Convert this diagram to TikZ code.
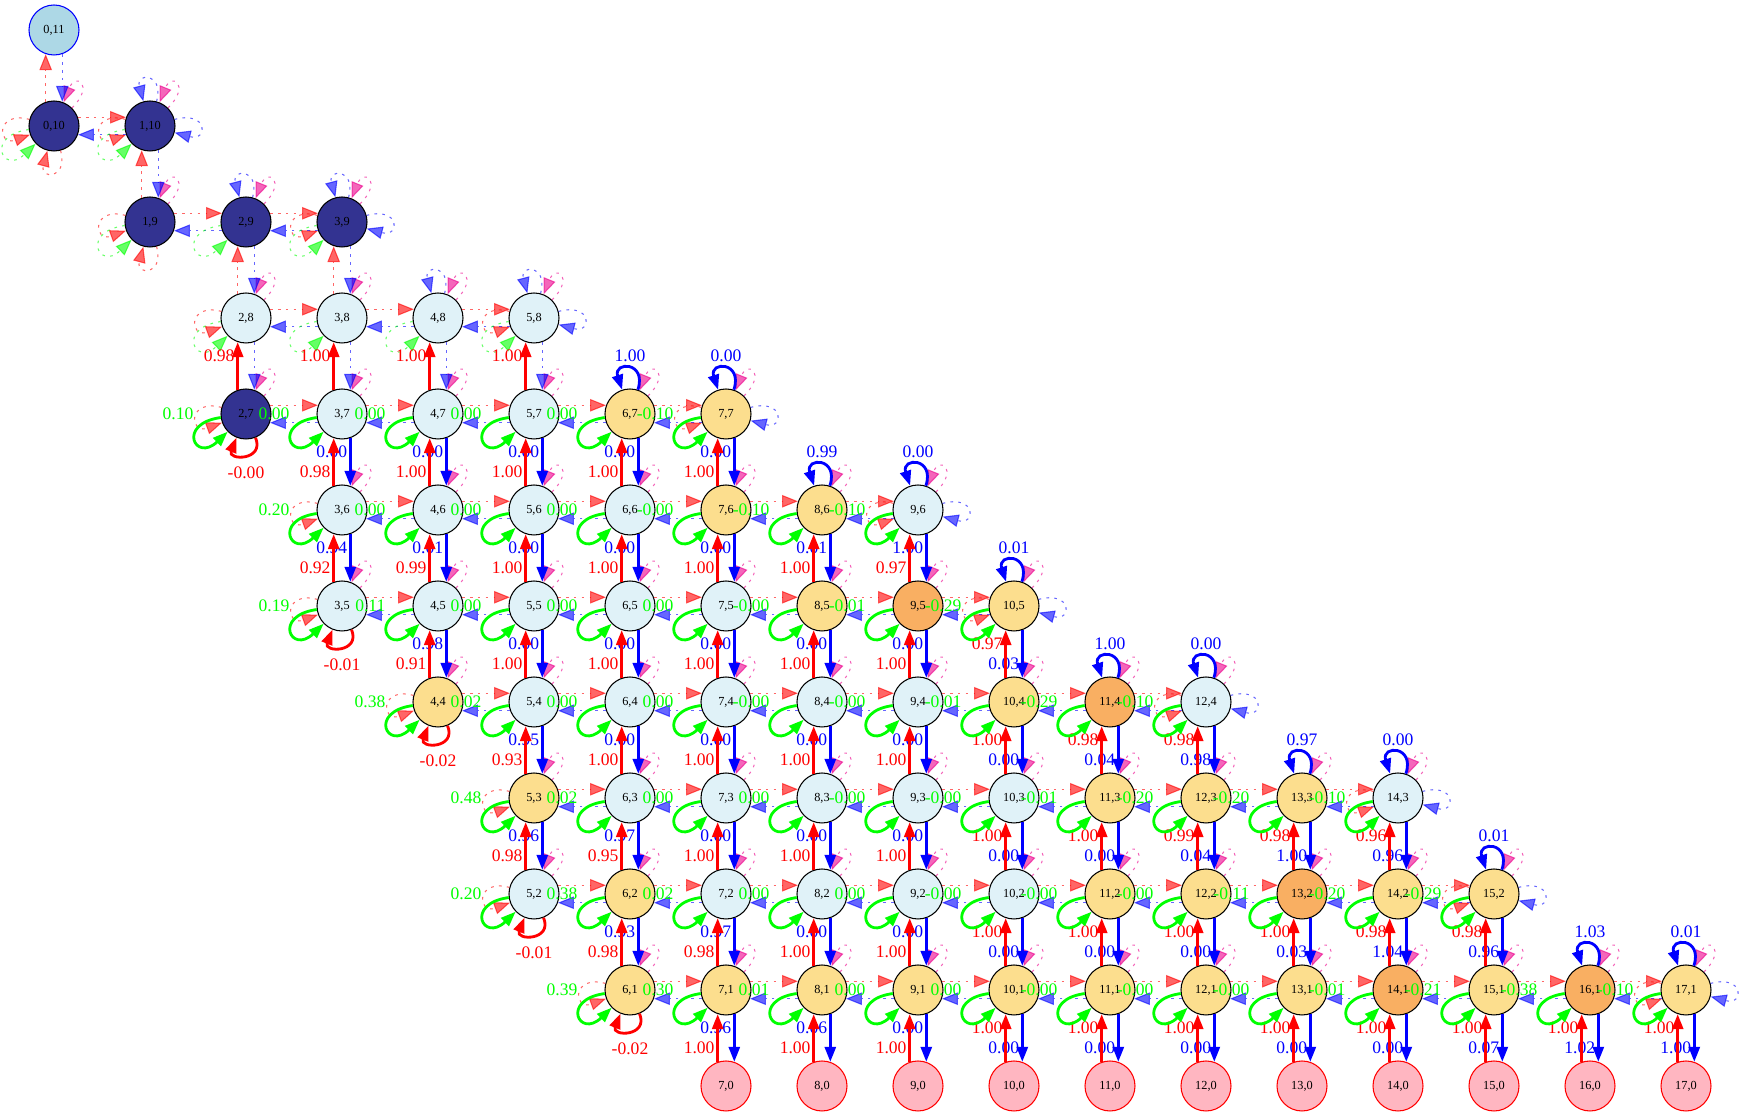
\documentclass[tikz,border=0pt]{standalone}
\usepackage{fontspec}
\setmainfont{Liberation Serif}
\usetikzlibrary{arrows.meta,positioning}
\definecolor{stcyan}{RGB}{224,242,248}
\definecolor{styellow}{RGB}{252,222,142}
\definecolor{storange}{RGB}{249,175,98}
\definecolor{stnavy}{RGB}{51,51,145}
\definecolor{stpink}{RGB}{255,182,193}
\definecolor{sttop}{RGB}{173,216,230}
\definecolor{grn}{RGB}{0,255,0}
\tikzset{st/.style={circle, draw, line width=0.6pt, minimum size=1cm, inner sep=0pt,
    font=\fontsize{7}{8}\selectfont},
  stc/.style={st, fill=stcyan}, sty/.style={st, fill=styellow},
  sto/.style={st, fill=storange}, stn/.style={st, fill=stnavy},
  stp/.style={st, draw=red, fill=stpink}, stt/.style={st, draw=blue, fill=sttop},
  elbl/.style={font=\fontsize{10}{12}\selectfont, inner sep=1pt},
  arr/.style={-{Triangle[length=0.3cm, width=0.22cm]}, line width=1.6pt},
  upe/.style={arr, red}, dne/.style={arr, blue},
  stayloop/.style={arr, grn, out=188, in=224, min distance=0.9cm},
  dnloop/.style={arr, red, out=292, in=248, min distance=0.5cm},
  uploop/.style={arr, blue, out=72, in=108, min distance=0.6cm},
  faint/.style={-{Triangle[length=0.32cm, width=0.25cm]}, line width=0.6pt,
    dash pattern=on 1.5pt off 3pt, opacity=0.6},
  rdash/.style={faint, red}, bdash/.style={faint, blue},
  lldash/.style={rdash, out=165, in=200, min distance=0.7cm},
  rldash/.style={bdash, out=15, in=-15, min distance=0.7cm},
  uldash/.style={bdash, out=75, in=105, min distance=0.6cm},
  dldash/.style={rdash, out=285, in=255, min distance=0.6cm},
  gldash/.style={faint, grn, out=188, in=224, min distance=0.9cm},
  mloop/.style={faint, magenta, out=45, in=68, min distance=0.65cm}}

\begin{document}
\begin{tikzpicture}[x=1.92cm, y=1.92cm]
  \useasboundingbox (-0.5625,-0.3229) rectangle (17.573,11.3125);
  % states, row by row
  \node[stt] (s0-11) at (0,11) {0,11};
  \foreach \y/\a/\ks in {10/0/{stn,stn}, 9/1/{stn,stn,stn}, 8/2/{stc,stc,stc,stc},
      7/2/{stn,stc,stc,stc,sty,sty}, 6/3/{stc,stc,stc,stc,sty,sty,stc},
      5/3/{stc,stc,stc,stc,stc,sty,sto,sty}, 4/4/{sty,stc,stc,stc,stc,stc,sty,sto,stc},
      3/5/{sty,stc,stc,stc,stc,stc,sty,sty,sty,stc},
      2/5/{stc,sty,stc,stc,stc,stc,sty,sty,sto,sty,sty},
      1/6/{sty,sty,sty,sty,sty,sty,sty,sty,sto,sty,sto,sty}}
    \foreach \k [count=\x from \a] in \ks {
      \node[\k] (s\x-\y) at (\x,\y) {\x,\y};
      \draw[mloop] (s\x-\y) to (s\x-\y);
    }
  \foreach \x in {7,...,17}
    \node[stp] (s\x-0) at (\x,0) {\x,0};

  % faint sideways moves
  \foreach \y/\a/\b in {10/0/1, 9/1/3, 8/2/5, 7/2/7, 6/3/9, 5/3/10, 4/4/12, 3/5/14, 2/5/15, 1/6/17} {
    \draw[lldash] (s\a-\y) to (s\a-\y);
    \draw[lldash] (s\b-\y) to (s\b-\y);
    \draw[rldash] (s\b-\y) to (s\b-\y);
    \pgfmathtruncatemacro\c{\a+1}
    \foreach \x in {\c,...,\b} {
      \pgfmathtruncatemacro\p{\x-1}
      \draw[rdash] (s\p-\y.20) -- (s\x-\y.160);
      \draw[bdash] (s\x-\y.200) -- (s\p-\y.340);
    }
  }
  % faint moves in the upper part
  \foreach \x/\y in {0/11, 1/10, 2/9, 3/9} {
    \pgfmathtruncatemacro\b{\y-1}
    \draw[rdash] (s\x-\b.109) -- (s\x-\y.251);
  }
  \foreach \x/\y in {0/11, 1/10, 2/9, 3/9, 2/8, 3/8, 4/8, 5/8} {
    \pgfmathtruncatemacro\b{\y-1}
    \draw[bdash] (s\x-\y.289) -- (s\x-\b.71);
  }
  \foreach \n in {s0-10, s1-9} \draw[dldash] (\n) to (\n);
  \foreach \n in {s1-10, s2-9, s3-9, s4-8, s5-8} \draw[uldash] (\n) to (\n);
  \foreach \n in {s0-10, s1-10, s1-9, s2-9, s3-9, s2-8, s3-8, s4-8, s5-8} \draw[gldash] (\n) to (\n);

  % down
  \foreach \x/\y/\l in {3/7/0.00, 3/6/0.94, 4/7/0.00, 4/6/0.01, 4/5/0.98,
      5/7/0.00, 5/6/0.00, 5/5/0.00, 5/4/0.95, 5/3/0.96,
      6/7/0.00, 6/6/0.00, 6/5/0.00, 6/4/0.00, 6/3/0.97, 6/2/0.93,
      7/7/0.00, 7/6/0.00, 7/5/0.00, 7/4/0.00, 7/3/0.00, 7/2/0.97, 7/1/0.96,
      8/6/0.01, 8/5/0.00, 8/4/0.00, 8/3/0.00, 8/2/0.00, 8/1/0.06,
      9/6/1.00, 9/5/0.00, 9/4/0.00, 9/3/0.00, 9/2/0.00, 9/1/0.00,
      10/5/0.03, 10/4/0.00, 10/3/0.00, 10/2/0.00, 10/1/0.00,
      11/4/0.04, 11/3/0.00, 11/2/0.00, 11/1/0.00,
      12/4/0.98, 12/3/0.04, 12/2/0.00, 12/1/0.00,
      13/3/1.00, 13/2/0.03, 13/1/0.00, 14/3/0.96, 14/2/1.04, 14/1/0.00,
      15/2/0.96, 15/1/0.07, 16/1/1.02, 17/1/1.00} {
    \pgfmathtruncatemacro\b{\y-1}
    \pgfmathsetmacro\q{\x>9 ? 0.71 : 0.29}
    \draw[dne] (s\x-\y.289) -- node[elbl, blue, left, pos=\q] (bd\x-\y) {\l} (s\x-\b.71);
  }
  % up
  \foreach \x/\y/\l in {2/8/0.98, 3/8/1.00, 3/7/0.98, 3/6/0.92,
      4/8/1.00, 4/7/1.00, 4/6/0.99, 4/5/0.91,
      5/8/1.00, 5/7/1.00, 5/6/1.00, 5/5/1.00, 5/4/0.93, 5/3/0.98,
      6/7/1.00, 6/6/1.00, 6/5/1.00, 6/4/1.00, 6/3/0.95, 6/2/0.98,
      7/7/1.00, 7/6/1.00, 7/5/1.00, 7/4/1.00, 7/3/1.00, 7/2/0.98, 7/1/1.00,
      8/6/1.00, 8/5/1.00, 8/4/1.00, 8/3/1.00, 8/2/1.00, 8/1/1.00,
      9/6/0.97, 9/5/1.00, 9/4/1.00, 9/3/1.00, 9/2/1.00, 9/1/1.00,
      10/5/0.97, 10/4/1.00, 10/3/1.00, 10/2/1.00, 10/1/1.00,
      11/4/0.98, 11/3/1.00, 11/2/1.00, 11/1/1.00,
      12/4/0.98, 12/3/0.99, 12/2/1.00, 12/1/1.00,
      13/3/0.98, 13/2/1.00, 13/1/1.00, 14/3/0.96, 14/2/0.98, 14/1/1.00,
      15/2/0.98, 15/1/1.00, 16/1/1.00, 17/1/1.00} {
    \pgfmathtruncatemacro\b{\y-1}
    \pgfmathsetmacro\q{(\x>9 || \y==8) ? 0.71 : 0.29}
    \draw[upe] (s\x-\b.109) -- node[elbl, red, left, pos=\q] (up\x-\y) {\l} (s\x-\y.251);
  }
  % stay
  \foreach \x/\y/\l in {2/7/0.10, 3/7/0.00, 4/7/0.00, 5/7/0.00, 6/7/0.00, 7/7/-0.10,
      3/6/0.20, 4/6/0.00, 5/6/0.00, 6/6/0.00, 7/6/-0.00, 8/6/-0.10, 9/6/-0.10,
      3/5/0.19, 4/5/0.11, 5/5/0.00, 6/5/0.00, 7/5/0.00, 8/5/-0.00, 9/5/-0.01, 10/5/-0.29,
      4/4/0.38, 5/4/0.02, 6/4/0.00, 7/4/0.00, 8/4/-0.00, 9/4/-0.00, 10/4/-0.01, 11/4/-0.29, 12/4/-0.10,
      5/3/0.48, 6/3/0.02, 7/3/0.00, 8/3/0.00, 9/3/-0.00, 10/3/-0.00, 11/3/-0.01, 12/3/-0.20, 13/3/-0.20, 14/3/-0.10,
      5/2/0.20, 6/2/0.38, 7/2/0.02, 8/2/0.00, 9/2/0.00, 10/2/-0.00, 11/2/-0.00, 12/2/-0.00, 13/2/-0.11, 14/2/-0.20, 15/2/-0.29,
      6/1/0.39, 7/1/0.30, 8/1/0.01, 9/1/0.00, 10/1/0.00, 11/1/-0.00, 12/1/-0.00, 13/1/-0.00, 14/1/-0.01, 15/1/-0.21, 16/1/-0.38, 17/1/-0.10} {
    \draw[stayloop] (s\x-\y) to (s\x-\y);
    \node[elbl, grn, left=0.5cm of s\x-\y.west] (g\x-\y) {\l};
  }
  % bottom of a column
  \foreach \x/\y/\l in {2/7/-0.00, 3/5/-0.01, 4/4/-0.02, 5/2/-0.01, 6/1/-0.02} {
    \draw[dnloop] (s\x-\y) to (s\x-\y);
    \node[elbl, red, below=0.5cm of s\x-\y.south] (rl\x-\y) {\l};
  }
  % top of a column
  \foreach \x/\y/\l in {6/7/1.00, 7/7/0.00, 8/6/0.99, 9/6/0.00, 10/5/0.01, 11/4/1.00,
      12/4/0.00, 13/3/0.97, 14/3/0.00, 15/2/0.01, 16/1/1.03, 17/1/0.01} {
    \draw[uploop] (s\x-\y) to (s\x-\y);
    \node[elbl, blue, above=0.5cm of s\x-\y.north] (bl\x-\y) {\l};
  }
\end{tikzpicture}
\end{document}
